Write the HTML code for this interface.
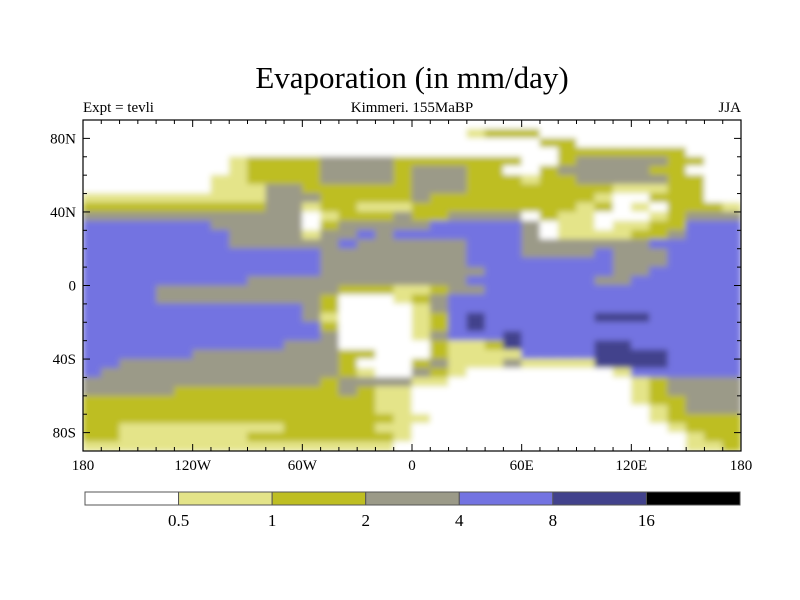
<!DOCTYPE html>
<html><head><meta charset="utf-8">
<style>
body{margin:0;background:#fff;}
svg{display:block;font-family:"Liberation Serif",serif;}
</style></head>
<body>
<svg id="chart" width="800" height="600" viewBox="0 0 800 600">
<defs>
<clipPath id="plotclip"><rect x="83" y="120" width="658" height="331"/></clipPath>
<filter id="soft" filterUnits="userSpaceOnUse" x="70" y="110" width="690" height="350"><feGaussianBlur stdDeviation="3"/></filter>
</defs>
<rect width="800" height="600" fill="#fff"/>
<text x="412" y="88" text-anchor="middle" font-size="31">Evaporation (in mm/day)</text>
<text x="83" y="112" font-size="15">Expt = tevli</text>
<text x="412" y="112" text-anchor="middle" font-size="15">Kimmeri. 155MaBP</text>
<text x="741" y="112" text-anchor="end" font-size="15">JJA</text>
<g id="cells" clip-path="url(#plotclip)"><g id="cellsInner" filter="url(#soft)"></g></g>
<g id="axes"></g>
<g id="cbar"></g>
</svg>
<script>
// value class grid (0:<0.5, 1:0.5-1, 2:1-2, 3:2-4, 4:4-8, 5:8-16, 6:>16); rows 5° lat from 90N, cols 10° lon from 180W
const gridRows = [
"000000000000000000000000000000000000",
"000000000000000000000122200000000000",
"000000000000000000000000022000000000",
"000000000000000000000000002222222000",
"000000001222233332222222002333332200",
"000000001222233332333220023333322000",
"000000011222233332333222122333332200",
"000000011133222222333222222221112200",
"111111111133322222322222222210022200",
"222222222233122111222222222120102221",
"333333333333012223223333021100012333",
"444444433333023333344444301101122444",
"444444443333133434444444301111223444",
"444444443333334333333444333333344444",
"444444444444433333333444333343334444",
"444444444444433333333444444443334444",
"444444444444433333333344444443344444",
"444444444333333333333444444433444444",
"444433333333332221123344444444444444",
"444433333333320001234444444444444444",
"444444444444320000134444444444444444",
"444444444444310000124544444455544444",
"444444444444420000124544444444444444",
"444444444444430000134445444444444444",
"444444444443330000021125444455444444",
"444444333333332200021111444455554444",
"443333333333332000231113111155554444",
"433333333333332100321000000001444444",
"333333333333323333110000000000123333",
"333332222222223211000000000000123333",
"222222222222222211000000000000122333",
"222222222222222211000000000000012333",
"222222222222222221100000000000012222",
"221111111112222211000000000000001222",
"221111111222222221000000000000000122",
"111111111111111110000000000000000112"
];
const levelColors = ["#ffffff","#e4e489","#bebe22","#9b9a88","#7373e1","#42428c","#000000"];
const levelLabels = ["0.5","1","2","4","8","16"];
const lonTicks = [-180,-120,-60,0,60,120,180];
const lonTickLabels = ["180","120W","60W","0","60E","120E","180"];
const latTicks = [80,40,0,-40,-80];
const latTickLabels = ["80N","40N","0","40S","80S"];

const NS="http://www.w3.org/2000/svg";
const X0=83,X1=741,Y0=120,Y1=451;
function xOf(lon){return X0+(lon+180)/360*(X1-X0);}
function yOf(lat){return Y0+(90-lat)/180*(Y1-Y0);}
function mk(tag,attrs,parent){const e=document.createElementNS(NS,tag);for(const k in attrs)e.setAttribute(k,attrs[k]);parent.appendChild(e);return e;}

const inner=document.getElementById('cellsInner');
const nR=gridRows.length,nC=gridRows[0].length;
const dLat=180/nR,dLon=360/nC;
for(let r=0;r<nR;r++){
  for(let c=0;c<nC;c++){
    const v=+gridRows[r][c];
    const lat=90-r*dLat, lon=-180+c*dLon;
    const x=xOf(lon),y=yOf(lat);
    const w=xOf(lon+dLon)-x,h=yOf(lat-dLat)-y;
    const e=mk('rect',{x:x-0.3,y:y-0.3,width:w+0.6,height:h+0.6,fill:levelColors[v]},inner);
    
    
  }
}
const ax=document.getElementById('axes');
const fr=mk('rect',{x:X0,y:Y0,width:X1-X0,height:Y1-Y0,fill:'none',stroke:'#000','stroke-width':1.2},ax);


for(let lon=-180;lon<=180;lon+=10){
  const x=xOf(lon),len=(lon%60===0)?7:4;
  mk('line',{x1:x,y1:Y0,x2:x,y2:Y0+len,stroke:'#000','stroke-width':1},ax);
  mk('line',{x1:x,y1:Y1,x2:x,y2:Y1-len,stroke:'#000','stroke-width':1},ax);
}
for(let lat=-90;lat<=90;lat+=10){
  const y=yOf(lat),len=(lat%40===0)?7:4;
  mk('line',{x1:X0,y1:y,x2:X0+len,y2:y,stroke:'#000','stroke-width':1},ax);
  mk('line',{x1:X1,y1:y,x2:X1-len,y2:y,stroke:'#000','stroke-width':1},ax);
}
lonTicks.forEach((lon,i)=>{
  const t=mk('text',{x:xOf(lon),y:470,'text-anchor':'middle','font-size':15},ax);
  t.textContent=lonTickLabels[i];
  
  
});
latTicks.forEach((lat,i)=>{
  const t=mk('text',{x:76,y:yOf(lat)+5,'text-anchor':'end','font-size':15},ax);
  t.textContent=latTickLabels[i];
  
  
});
const cb=document.getElementById('cbar');
const CX0=85,CX1=740,CY=492,CH=13,bw=(CX1-CX0)/levelColors.length;
levelColors.forEach((col,i)=>{
  const b=mk('rect',{x:CX0+i*bw,y:CY,width:bw,height:CH,fill:col,stroke:'#555','stroke-width':1},cb);
  
  
});
levelLabels.forEach((lab,i)=>{
  const t=mk('text',{x:CX0+(i+1)*bw,y:526,'text-anchor':'middle','font-size':17},cb);
  t.textContent=lab;
  
  
});
</script>
</body></html>
